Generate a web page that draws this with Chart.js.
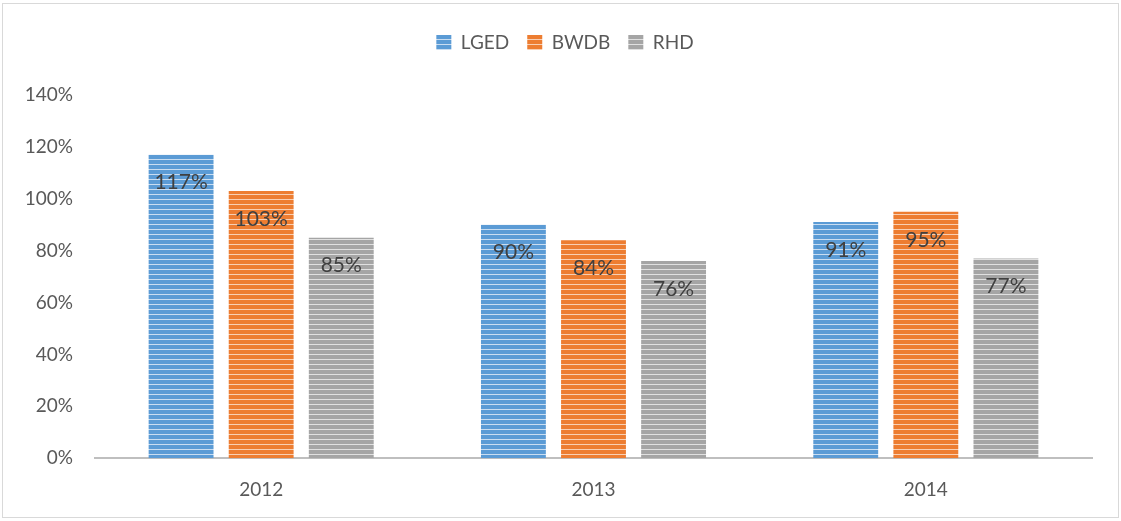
<!DOCTYPE html>
<html>
<head>
<meta charset="utf-8">
<script src="https://cdn.jsdelivr.net/npm/chart.js@4/dist/chart.umd.min.js"></script>
<style>
  body { margin: 0; background: #fff; }
  #wrap { position: relative; width: 1121px; height: 521px; }
  #frame { position: absolute; left: 2px; top: 3px; width: 1115px; height: 513px; border: 1px solid #d9d9d9; }
  canvas { position: absolute; left: 0; top: 0; }
</style>
</head>
<body>
<div id="wrap">
  <div id="frame"></div>
  <canvas id="c" width="1121" height="521"></canvas>
</div>
<script>
// values
const years = ['2012', '2013', '2014'];
const lged = [1.17, 0.90, 0.91];
const bwdb = [1.03, 0.84, 0.95];
const rhd = [0.85, 0.76, 0.77];
const yTicks = [0, 0.2, 0.4, 0.6, 0.8, 1.0, 1.2, 1.4];

// horizontal stripes like the excel fill
function stripes(color, light) {
    var p = document.createElement('canvas');
    p.width = 8; p.height = 5;
    var g = p.getContext('2d');
    g.fillStyle = color;
    g.fillRect(0, 0, 8, 5);
    g.fillStyle = light;
    g.fillRect(0, 4, 8, 1);
    return g.createPattern(p, 'repeat');
}

const ctx = document.getElementById('c').getContext('2d');
const font = 'Lato, "Open Sans", sans-serif';

const valueLabels = {
    id: 'valueLabels',
    afterDatasetsDraw(chart) {
        var c = chart.ctx;
        c.save();
        c.font = '21px ' + font;
        c.fillStyle = '#404040';
        c.textAlign = 'center';
        c.textBaseline = 'middle';
        chart.data.datasets.forEach(function (ds, i) {
            chart.getDatasetMeta(i).data.forEach(function (bar, j) {
                c.fillText(Math.round(ds.data[j] * 100) + '%', bar.x, bar.y + 28);
            });
        });
        c.restore();
    }
};

// extra room under the legend, and move it a bit to the right
const legendGap = {
    id: 'legendGap',
    beforeInit(chart) {
        var fit = chart.legend.fit;
        chart.legend.fit = function () {
            fit.bind(chart.legend)();
            this.height += 33;
        };
    },
    afterLayout(chart) {
        chart.legend.left += 19;
        chart.legend.right += 19;
    }
};

new Chart(ctx, {
    type: 'bar',
    data: {
        labels: years,
        datasets: [
            { label: 'LGED', data: lged, backgroundColor: stripes('#5b9bd5', '#c9ddf1') },
            { label: 'BWDB', data: bwdb, backgroundColor: stripes('#ed7d31', '#f8cfb3') },
            { label: 'RHD', data: rhd, backgroundColor: stripes('#a5a5a5', '#e0e0e0') }
        ]
    },
    options: {
        responsive: false,
        animation: false,
        layout: { padding: { left: 0, right: 29, top: 15, bottom: 8 } },
        categoryPercentage: 0.723,
        barPercentage: 0.81,
        plugins: {
            legend: {
                position: 'top',
                labels: {
                    boxWidth: 15, boxHeight: 15, padding: 18,
                    color: '#595959',
                    font: { family: font, size: 19 }
                }
            },
            tooltip: { enabled: false }
        },
        scales: {
            x: {
                grid: { display: false },
                border: { color: '#bfbfbf', width: 2 },
                ticks: { color: '#595959', font: { family: font, size: 19 }, padding: 12 }
            },
            y: {
                min: 0, max: 1.4,
                afterFit: function (s) { s.width = 95; },
                afterBuildTicks: function (s) { s.ticks = yTicks.map(function (v) { return { value: v }; }); },
                grid: { display: false },
                border: { display: false },
                ticks: {
                    color: '#595959', padding: 14,
                    font: { family: font, size: 19 },
                    callback: function (v) { return Math.round(v * 100) + '%'; }
                }
            }
        }
    },
    plugins: [valueLabels, legendGap]
});
</script>
</body>
</html>
